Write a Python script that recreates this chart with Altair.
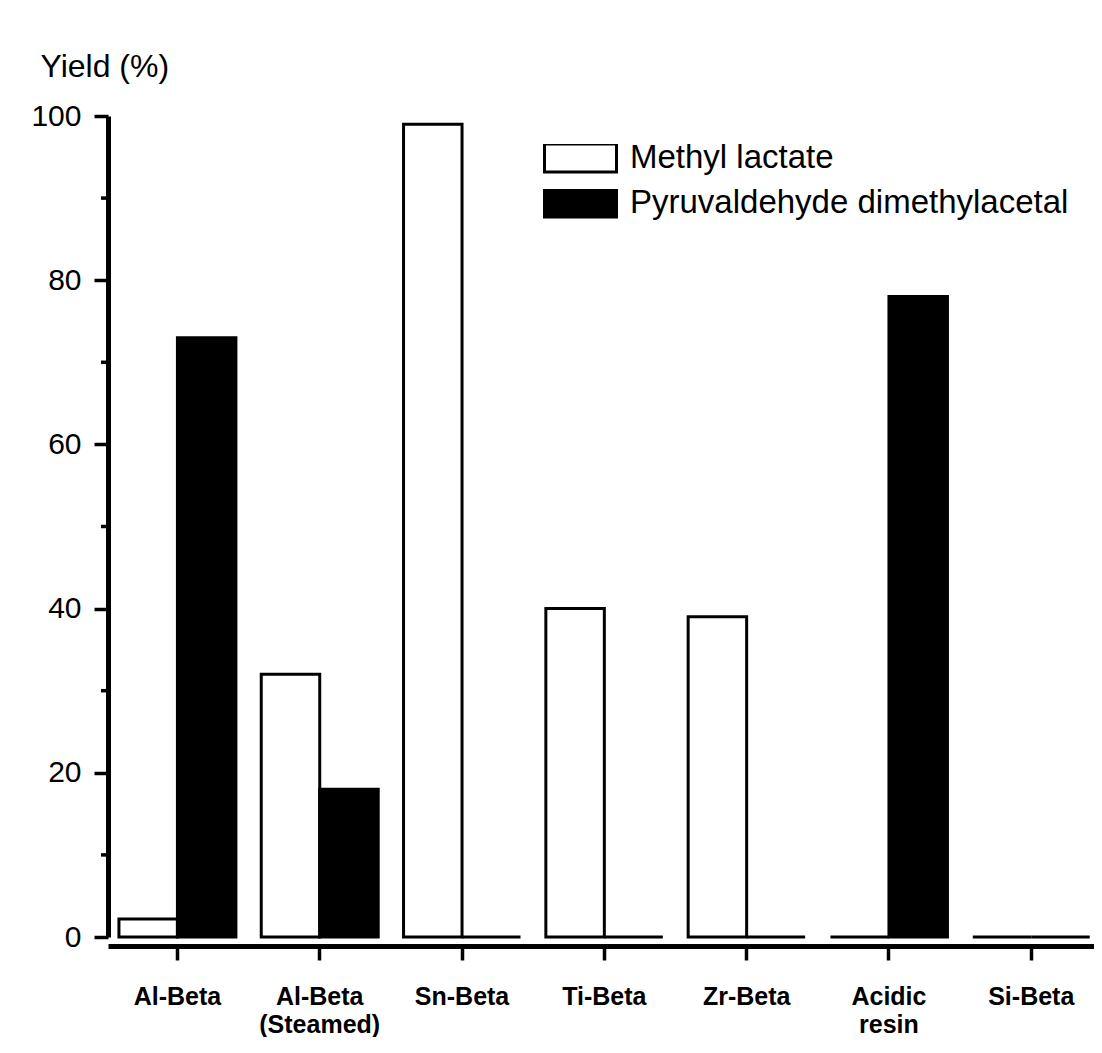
import altair as alt
import pandas as pd

catalysts = ["Al-Beta", "Al-Beta|(Steamed)", "Sn-Beta", "Ti-Beta", "Zr-Beta", "Acidic|resin", "Si-Beta"]
methyl_lactate = [2.2, 32, 99, 40, 39, 0, 0]
pyruvaldehyde = [73, 18, 0, 0, 0, 78, 0]
series_names = ["Methyl lactate", "Pyruvaldehyde dimethylacetal"]
y_ticks = [0, 20, 40, 60, 80, 100]
y_minor = [10, 30, 50, 70, 90]

rows = []
for c, a, b in zip(catalysts, methyl_lactate, pyruvaldehyde):
    rows.append({"cat": c, "series": series_names[0], "val": a})
    rows.append({"cat": c, "series": series_names[1], "val": b})
df = pd.DataFrame(rows)
minor_df = pd.DataFrame({"v": y_minor})

yscale = alt.Scale(domain=[0, 100], nice=False, zero=True)

def y_axis():
    return alt.Axis(title="Yield (%)", values=y_ticks, grid=False,
                    labelFont="Liberation Sans", labelFontSize=30, labelColor="black",
                    labelPadding=13, tickSize=14, tickWidth=3.5, tickColor="black",
                    domainColor="black", domainWidth=5,
                    titleAngle=0, titleX=-68, titleY=-50, titleAlign="left",
                    titleBaseline="middle", titleFont="Liberation Sans",
                    titleFontSize=32, titleFontWeight="normal", titleColor="black")

bars = alt.Chart(df).mark_bar(stroke="black", strokeWidth=3, strokeJoin="miter").encode(
    x=alt.X("cat:N", sort=catalysts,
            scale=alt.Scale(paddingInner=0.178, paddingOuter=0.0534, align=0.72),
            axis=alt.Axis(title=None, labelExpr="split(datum.label, '|')",
                          labelAngle=0, labelFont="Liberation Sans", labelFontWeight="bold",
                          labelFontSize=25, labelColor="black", labelPadding=24,
                          labelLineHeight=28, labelBaseline="top",
                          tickSize=14, tickWidth=3.5, tickColor="black",
                          domainColor="black", domainWidth=5, offset=9)),
    xOffset=alt.XOffset("series:N", sort=series_names,
                        scale=alt.Scale(paddingInner=0, paddingOuter=0)),
    y=alt.Y("val:Q", scale=yscale, axis=y_axis()),
    fill=alt.Fill("series:N", sort=series_names,
                  scale=alt.Scale(domain=series_names, range=["white", "black"]),
                  legend=alt.Legend(title=None, orient="none", legendX=435, legendY=28,
                                    symbolType="M-1,-0.39H1V0.39H-1Z", symbolSize=5184,
                                    symbolStrokeColor="black", symbolStrokeWidth=3,
                                    clipHeight=28, rowPadding=12, labelOffset=12,
                                    labelFont="Liberation Sans", labelFontSize=33,
                                    labelColor="black", labelLimit=600, padding=0)),
)

minor = alt.Chart(minor_df).mark_rule(color="black", strokeWidth=3.5).encode(
    y=alt.Y("v:Q", scale=yscale, axis=y_axis()),
    x=alt.value(-7),
    x2=alt.value(0),
)

chart = alt.layer(bars, minor).properties(
    width=986, height=821,
    autosize=alt.AutoSizeParams(type="none"),
    padding={"left": 100, "top": 108, "right": 0, "bottom": 100},
    background="white",
).configure_view(stroke=None)

chart.save("out.html", embed_options={"renderer": "svg", "actions": False})
